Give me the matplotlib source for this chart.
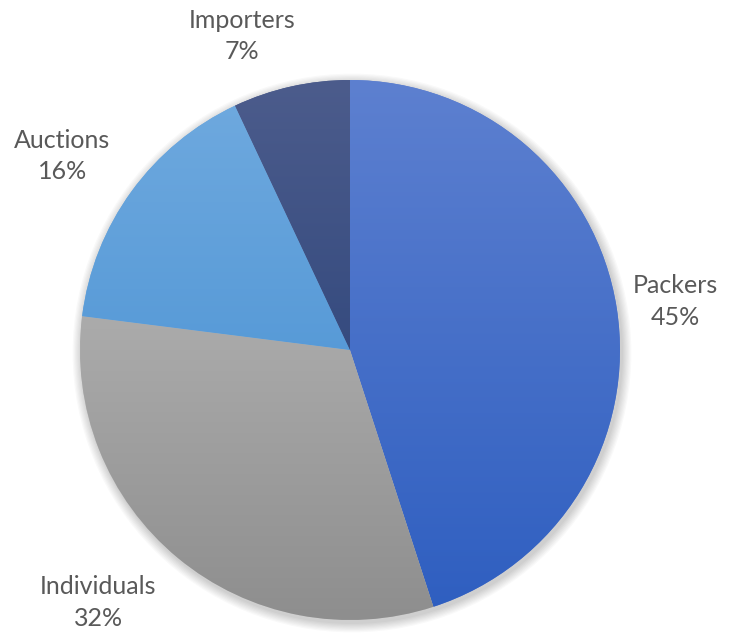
import numpy as np
import matplotlib.pyplot as plt
from matplotlib.colors import LinearSegmentedColormap
from matplotlib.patches import Circle

categories = ['Packers', 'Individuals', 'Auctions', 'Importers']
shares = [45, 32, 16, 7]
top_colors = ['#5d80d0', '#c2c2c2', '#70aadf', '#4c5c8c']
bottom_colors = ['#2e5ec0', '#8e8e8e', '#3f8bd0', '#1f3a72']
label_dist = [1.22, 1.32, 1.285, 1.23]
label_turn = [-0.5, -5.3, 2.0, 6.4]

fig = plt.figure(figsize=(7.46, 6.35), dpi=100)
ax = fig.add_axes([0, 0, 1, 1])
cx, cy, r = 350, 285, 270

# soft shadow
for k in range(8):
    ax.add_patch(Circle((cx + 2, cy - 3), r + 1 + k * 1.2, color='black',
                        alpha=0.025, lw=0, zorder=0))

wedges, _ = ax.pie(shares, center=(cx, cy), radius=r, startangle=90,
                   counterclock=False, colors=top_colors,
                   wedgeprops=dict(linewidth=0))

grad = np.linspace(0, 1, 256).reshape(-1, 1)
for w, c0, c1 in zip(wedges, top_colors, bottom_colors):
    cmap = LinearSegmentedColormap.from_list('g', [c0, c1])
    im = ax.imshow(grad, cmap=cmap, aspect='auto', origin='upper',
                   extent=[cx - r, cx + r, cy - r, cy + r], zorder=2)
    im.set_clip_path(w)

for w, name, val, d, t in zip(wedges, categories, shares, label_dist, label_turn):
    ang = np.deg2rad((w.theta1 + w.theta2) / 2 + t)
    x = cx + d * r * np.cos(ang)
    y = cy + d * r * np.sin(ang)
    ax.text(x, y, f'{name}\n{val}%', ha='center', va='center',
            fontsize=18, color='#595959', family='Lato', linespacing=1.45)

ax.set_xlim(0, 746)
ax.set_ylim(0, 635)
ax.axis('off')
fig.savefig('out.png', dpi=100)
